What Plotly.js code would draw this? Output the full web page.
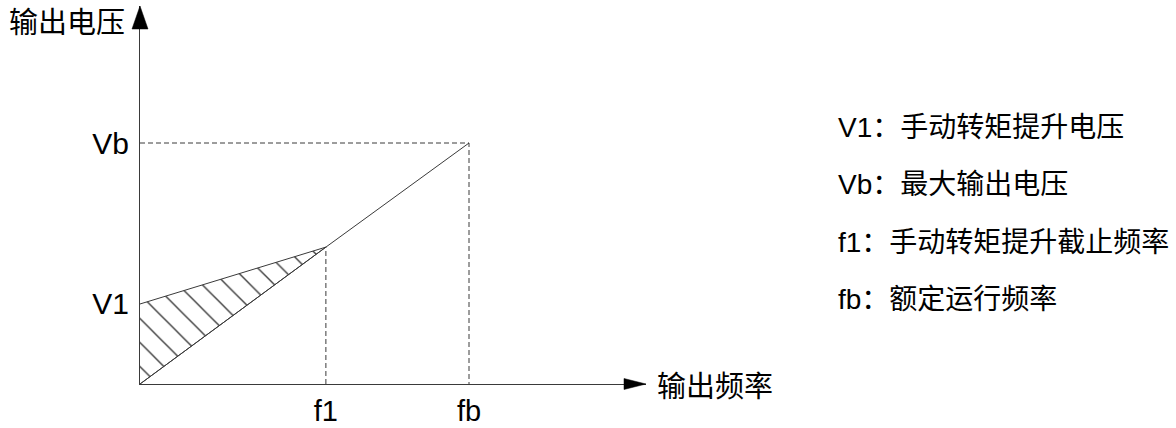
<!DOCTYPE html>
<html>
<head>
<meta charset="utf-8">
<script src="https://cdn.plot.ly/plotly-3.0.1.min.js"></script>
<style>html,body{margin:0;padding:0;background:#fff;}#chart{width:1176px;height:428px;}</style>
</head>
<body>
<div id="chart"></div>
<script>
// ---- data (normalised units: fb = 1, Vb = 1) ----
const freqTickVals = [0.565, 1.0];          // f1, fb
const freqTickText = ['f1', 'fb'];
const voltTickVals = [0.332, 1.0];          // V1, Vb
const voltTickText = ['V1', 'Vb'];
const vfFreq = [0, 0.565, 1.0];             // basic V/f line
const vfVolt = [0, 0.568, 1.0];
const boostFreq = [0, 0.565];               // torque boost line
const boostVolt = [0.332, 0.568];
const legendItems = ['V1：手动转矩提升电压', 'Vb：最大输出电压', 'f1：手动转矩提升截止频率', 'fb：额定运行频率'];
const yTitle = '输出电压';
const xTitle = '输出频率';

// ---- layout geometry ----
const W = 1176, H = 428;
const ml = 140, mr = 530, mt = 6, mb = 44;
const pw = W - ml - mr, ph = H - mt - mb;
const xMax = 1.538, yMax = 1.5685;
const px2x = px => (px - ml) / pw;
const py2y = py => (H - mb - py) / ph;
const pt = (px, py) => px2x(px).toFixed(5) + ',' + py2y(py).toFixed(5);

const lineCol = '#3a3a3a';
const latin = 'Liberation Sans, Arial, sans-serif';
const mixed = 'Liberation Sans, Noto Sans CJK SC, sans-serif';
const cjk = 'Noto Sans CJK SC, sans-serif';

const f1 = freqTickVals[0], fb = freqTickVals[1];
const V1 = voltTickVals[0], Vb = voltTickVals[1];

const traces = [
  { // hatched boost area
    x: [boostFreq[0], boostFreq[1], vfFreq[0]],
    y: [boostVolt[0], boostVolt[1], vfVolt[0]],
    mode: 'lines', fill: 'toself', fillcolor: 'rgba(0,0,0,0)',
    fillpattern: {shape: '\\', size: 17, solidity: 0.08, fgcolor: lineCol, bgcolor: 'rgba(0,0,0,0)'},
    line: {color: lineCol, width: 1}, hoverinfo: 'skip', showlegend: false
  },
  { // V/f line
    x: vfFreq, y: vfVolt, mode: 'lines',
    line: {color: lineCol, width: 1}, showlegend: false
  },
  { // dashed Vb guide
    x: [0, fb, fb], y: [Vb, Vb, 0], mode: 'lines',
    line: {color: lineCol, width: 1, dash: '5px,3px'}, showlegend: false
  },
  { // dashed f1 guide
    x: [f1, f1], y: [0, vfVolt[1]], mode: 'lines',
    line: {color: lineCol, width: 1, dash: '5px,3px'}, showlegend: false
  }
];

const annotations = [
  {xref: 'paper', yref: 'paper', x: px2x(7), y: py2y(20), text: yTitle, showarrow: false,
   xanchor: 'left', yanchor: 'middle', font: {family: cjk, size: 29, color: '#000'}},
  {xref: 'paper', yref: 'paper', x: px2x(655), y: py2y(384), text: xTitle, showarrow: false,
   xanchor: 'left', yanchor: 'middle', font: {family: cjk, size: 29, color: '#000'}}
];
const rowY = [127, 185, 242, 299];
legendItems.forEach((t, i) => {
  annotations.push({xref: 'paper', yref: 'paper', x: px2x(836), y: py2y(rowY[i]), text: t,
    showarrow: false, xanchor: 'left', yanchor: 'middle', font: {family: mixed, size: 28, color: '#000'}});
});

// arrowheads at axis ends (pixel geometry converted to paper coordinates)
const yTipX = ml, yTipY = mt;
const xTipX = ml + pw, xTipY = H - mb;
const shapes = [
  { type: 'path', xref: 'paper', yref: 'paper',
    path: 'M' + pt(yTipX - 8, yTipY + 23) + ' L' + pt(yTipX + 8, yTipY + 23) + ' L' + pt(yTipX, yTipY) + ' Z',
    fillcolor: '#000', line: {color: '#000', width: 0.5}, layer: 'above' },
  { type: 'path', xref: 'paper', yref: 'paper',
    path: 'M' + pt(xTipX - 22, xTipY - 5.5) + ' L' + pt(xTipX - 22, xTipY + 5.5) + ' L' + pt(xTipX, xTipY) + ' Z',
    fillcolor: '#000', line: {color: '#000', width: 0.5}, layer: 'above' }
];

const layout = {
  width: W, height: H,
  margin: {l: ml, r: mr, t: mt, b: mb, pad: 0},
  paper_bgcolor: '#fff', plot_bgcolor: '#fff',
  showlegend: false,
  xaxis: {range: [0, xMax], showgrid: false, zeroline: false, showline: true,
    linecolor: lineCol, linewidth: 1, ticks: '', tickvals: freqTickVals, ticktext: freqTickText,
    tickfont: {family: latin, size: 29, color: '#000'}, ticklabelstandoff: 1, fixedrange: true},
  yaxis: {range: [0, yMax], showgrid: false, zeroline: false, showline: true,
    linecolor: lineCol, linewidth: 1, ticks: '', tickvals: voltTickVals, ticktext: voltTickText,
    tickfont: {family: latin, size: 30, color: '#000'}, ticklabelstandoff: 4, fixedrange: true},
  annotations: annotations,
  shapes: shapes
};

Plotly.newPlot('chart', traces, layout, {displayModeBar: false, staticPlot: true});
</script>
</body>
</html>
